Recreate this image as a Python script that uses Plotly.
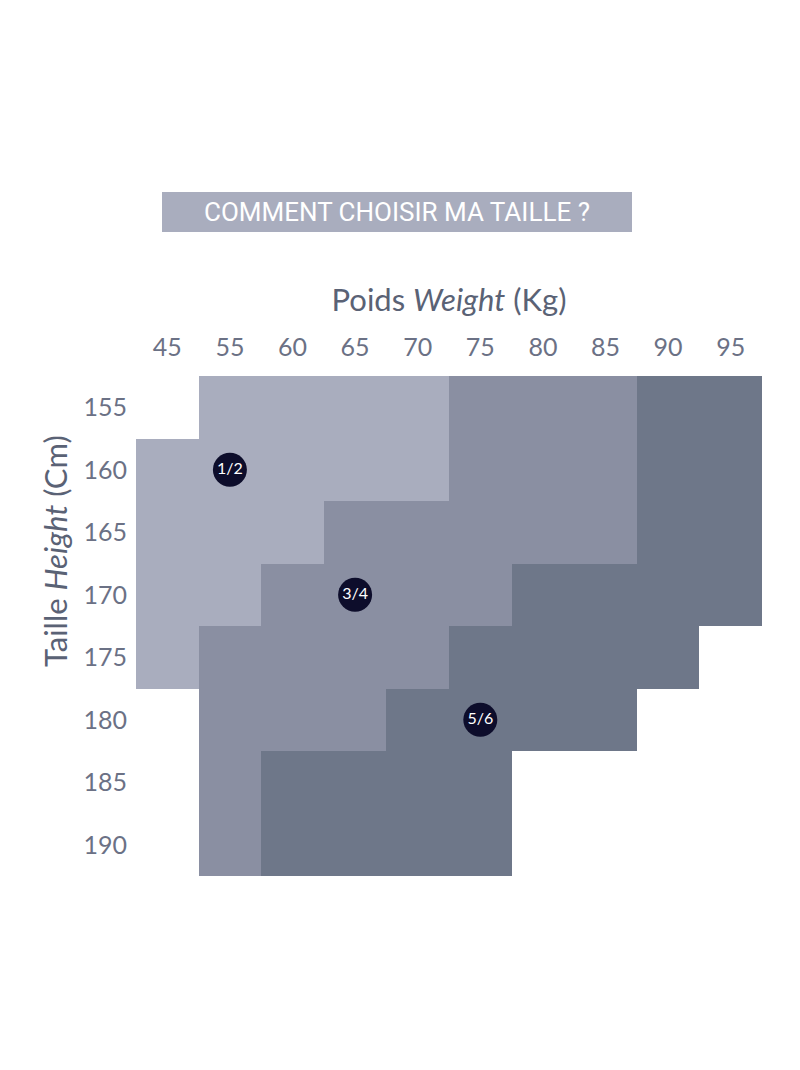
import plotly.graph_objects as go
import math

weights = ["45", "55", "60", "65", "70", "75", "80", "85", "90", "95"]
heights = ["155", "160", "165", "170", "175", "180", "185", "190"]
sizes = ["1/2", "3/4", "5/6"]
# size index per (height row, weight column); None = no size
grid = [
    [None, 0, 0, 0, 0, 1, 1, 1, 2, 2],
    [0, 0, 0, 0, 0, 1, 1, 1, 2, 2],
    [0, 0, 0, 1, 1, 1, 1, 1, 2, 2],
    [0, 0, 1, 1, 1, 1, 2, 2, 2, 2],
    [0, 1, 1, 1, 1, 2, 2, 2, 2, None],
    [None, 1, 1, 1, 2, 2, 2, 2, None, None],
    [None, 1, 2, 2, 2, 2, None, None, None, None],
    [None, 1, 2, 2, 2, 2, None, None, None, None],
]
label_weights = ["55", "65", "75"]
label_heights = ["160", "170", "180"]
colors = ["#a9adbe", "#8a8fa2", "#6e7789"]

z = [[(v if v is not None else math.nan) for v in row] for row in grid]

fig = go.Figure()
fig.add_trace(go.Heatmap(
    x=weights, y=heights, z=z, zmin=-0.5, zmax=2.5,
    colorscale=[[0, colors[0]], [1/3, colors[0]], [1/3, colors[1]], [2/3, colors[1]], [2/3, colors[2]], [1, colors[2]]],
    showscale=False, hoverongaps=False, xgap=0, ygap=0,
))
fig.add_trace(go.Scatter(
    x=label_weights, y=label_heights, mode="markers+text", text=sizes,
    marker=dict(size=34, color="#0d0d2b"),
    textfont=dict(color="white", size=16, family="Lato"),
    textposition="middle center", showlegend=False,
))

tick_font = dict(family="Lato", size=25, color="#6b7185")
title_font = dict(family="Lato", size=31, color="#5a6275")
fig.update_layout(
    width=800, height=1070,
    margin=dict(l=128, r=46, t=368, b=202),
    paper_bgcolor="white", plot_bgcolor="white",
    showlegend=False,
    xaxis=dict(side="top", type="category", categoryorder="array", categoryarray=weights,
               showgrid=False, zeroline=False, showline=False, ticks="",
               tickfont=tick_font, ticklabelstandoff=14,
               title=dict(text="Poids <i>Weight</i> (Kg)", font=title_font, standoff=10)),
    yaxis=dict(type="category", categoryorder="array", categoryarray=heights, autorange="reversed",
               showgrid=False, zeroline=False, showline=False, ticks="",
               tickfont=tick_font, ticklabelstandoff=8),
    shapes=[dict(type="rect", xref="paper", yref="paper", x0=(162-136)/626, x1=(632-136)/626,
                 y0=(876-232)/500, y1=(876-192)/500,
                 fillcolor="#a9adbe", line=dict(width=0), layer="below")],
    annotations=[
        dict(text="COMMENT CHOISIR MA TAILLE ?", xref="paper", yref="paper",
             x=(397-136)/626, y=(876-212)/500, xanchor="center", yanchor="middle",
             showarrow=False, font=dict(family="Roboto", size=26, color="white")),
        dict(text="Taille <i>Height</i> (Cm)", xref="paper", yref="paper",
             x=(55-136)/626, y=(876-551)/500, xanchor="center", yanchor="middle",
             textangle=-90, showarrow=False, font=title_font),
    ],
)
fig.write_html("out.html")
